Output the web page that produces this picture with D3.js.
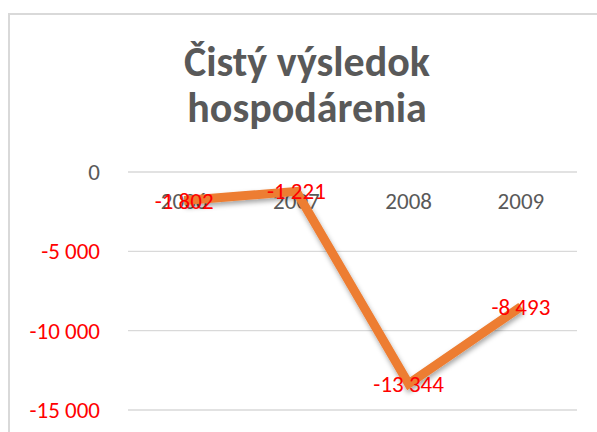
<!DOCTYPE html>
<html>
<head>
<meta charset="utf-8">
<script src="https://cdn.jsdelivr.net/npm/d3@7"></script>
<style>
  body { margin: 0; background: #fff; }
</style>
</head>
<body>
<div id="chart"></div>
<script>
// Data
var years = ["2006", "2007", "2008", "2009"];
var profit = [-1802, -1221, -13344, -8493];
var yTicks = [0, -5000, -10000, -15000];
var titleLines = ["Čistý výsledok", "hospodárenia"];

var W = 597, H = 432,
    font_family = "Carlito, Calibri, Lato, sans-serif",
    label_size = "23px";

var margin = {top: 172, right: 20, bottom: 22, left: 128},
    width = 577 - margin.left,
    height = 410 - margin.top;

var loc = d3.formatLocale({decimal: ",", thousands: "\u00a0", grouping: [3], currency: ["", " €"], minus: "-"});
var fmt = loc.format(",d");

var svg = d3.select("#chart").append("svg")
  .attr("width", W)
  .attr("height", H);

// shadow for the line
var defs = svg.append("defs");
var f = defs.append("filter").attr("id", "shadow")
  .attr("x", "-20%").attr("y", "-20%").attr("width", "140%").attr("height", "140%");
f.append("feDropShadow")
  .attr("dx", 1).attr("dy", 3).attr("stdDeviation", 2.5)
  .attr("flood-color", "#000").attr("flood-opacity", 0.35);

// chart frame (partially visible)
svg.append("path")
  .attr("d", "M9," + H + "V14H" + W)
  .attr("fill", "none")
  .attr("stroke", "#d9d9d9")
  .attr("stroke-width", 2);

// Title
svg.append("g").selectAll("text")
  .data(titleLines)
  .enter().append("text")
    .attr("x", 307)
    .attr("y", function(d, i) { return 76 + i * 46; })
    .attr("text-anchor", "middle")
    .attr("font-family", font_family)
    .attr("font-weight", "bold")
    .attr("font-size", "42px")
    .attr("fill", "#595959")
    .text(function(d) { return d; });

var g = svg.append("g")
  .attr("transform", "translate(" + margin.left + "," + margin.top + ")");

var x = d3.scaleBand().domain(years).range([0, width]);
var y = d3.scaleLinear().domain([0, -15000]).range([0, height]);

// gridlines
g.append("g").selectAll("line")
  .data(yTicks)
  .enter().append("line")
    .attr("x1", 0).attr("x2", width)
    .attr("y1", function(d) { return y(d); })
    .attr("y2", function(d) { return y(d); })
    .attr("stroke", "#d9d9d9")
    .attr("stroke-width", 1.3);

// y axis labels
var yAxis = g.append("g")
  .call(d3.axisLeft(y).tickValues(yTicks).tickSize(0).tickPadding(28).tickFormat(fmt));
yAxis.select(".domain").remove();
yAxis.selectAll("text")
  .attr("font-family", font_family)
  .attr("font-size", label_size)
  .attr("fill", function(d) { return d < 0 ? "#ff0000" : "#595959"; });

// x axis labels (at zero line)
var xAxis = g.append("g")
  .attr("transform", "translate(0," + y(0) + ")")
  .call(d3.axisBottom(x).tickSize(0).tickPadding(21));
xAxis.select(".domain").remove();
xAxis.selectAll("text")
  .attr("font-family", font_family)
  .attr("font-size", label_size)
  .attr("fill", "#595959");

// line
var pts = years.map(function(d, i) { return {year: d, value: profit[i]}; });
var line = d3.line()
  .x(function(d) { return x(d.year) + x.bandwidth() / 2; })
  .y(function(d) { return y(d.value); });

g.append("path")
  .datum(pts)
  .attr("d", line)
  .attr("fill", "none")
  .attr("stroke", "#ed7d31")
  .attr("stroke-width", 9)
  .attr("stroke-linejoin", "miter")
  .attr("filter", "url(#shadow)");

// data labels
g.append("g").selectAll("text")
  .data(pts)
  .enter().append("text")
    .attr("x", function(d) { return x(d.year) + x.bandwidth() / 2; })
    .attr("y", function(d) { return y(d.value); })
    .attr("dy", "0.35em")
    .attr("text-anchor", "middle")
    .attr("font-family", font_family)
    .attr("font-size", label_size)
    .attr("fill", "#ff0000")
    .text(function(d) { return fmt(d.value); });
</script>
</body>
</html>
